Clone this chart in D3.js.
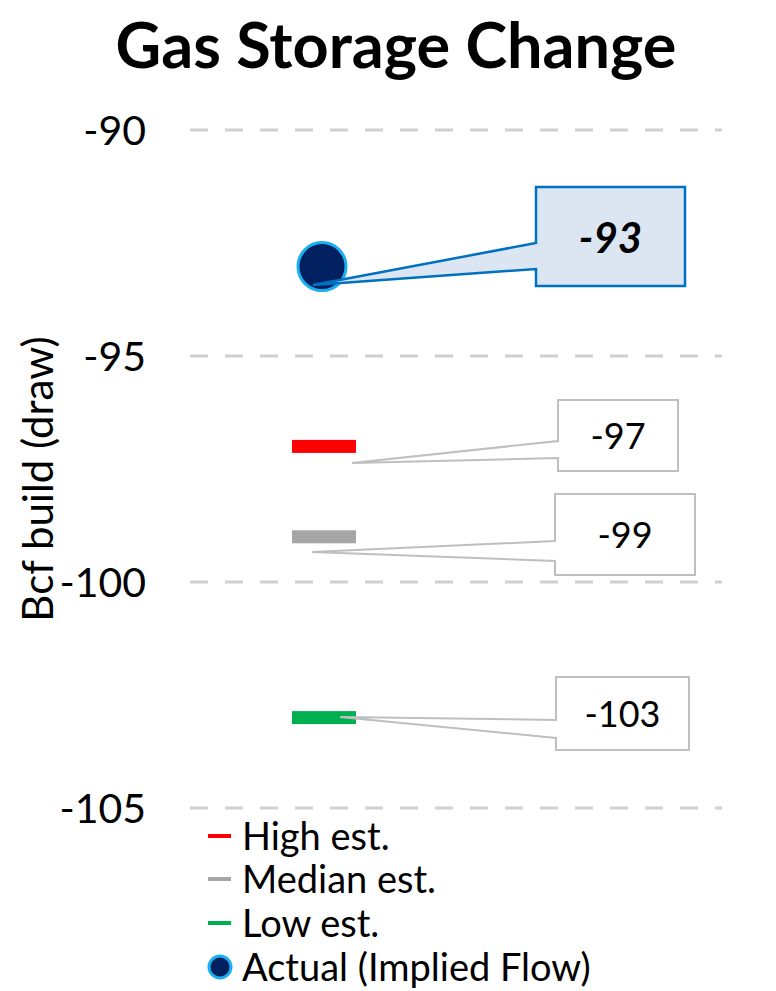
<!DOCTYPE html>
<html><head><meta charset="utf-8">
<script src="https://cdn.jsdelivr.net/npm/d3@7"></script>
<style>body{margin:0;background:#fff}svg{display:block}text{font-family:Lato,"Open Sans",sans-serif}</style>
</head><body>
<svg id="c" width="776" height="991"></svg>
<script>
const title = "Gas Storage Change";
const yLabel = "Bcf build (draw)";
const yTicks = [-90, -95, -100, -105];
const estNames = ["High est.", "Median est.", "Low est."];
const estValues = [-97, -99, -103];
const estColors = ["#ff0000", "#a6a6a6", "#00b050"];
const actualName = "Actual (Implied Flow)";
const actualValue = -93;

const svg = d3.select("#c");
const y = d3.scaleLinear().domain([-90, -105]).range([130, 808]);
const xL = 190, xR = 722;
const xc = 324;

svg.append("text").attr("x", 396).attr("y", 68).attr("text-anchor", "middle")
  .attr("font-size", 63).attr("font-weight", 700).attr("fill", "#000").text(title);

// gridlines
svg.append("g").selectAll("line").data(yTicks).join("line")
  .attr("x1", xL).attr("x2", xR).attr("y1", d => y(d)).attr("y2", d => y(d))
  .attr("stroke", "#d0d0d0").attr("stroke-width", 3).attr("stroke-dasharray", "18 17");

const ax = d3.axisLeft(y).tickValues(yTicks).tickSize(0).tickPadding(0).tickFormat(d => String(d));
const gA = svg.append("g").attr("transform", "translate(146,0)").call(ax);
gA.select(".domain").remove();
gA.selectAll("text").attr("font-size", 41).attr("fill", "#000").attr("dy", "0.36em")
  .attr("font-family", "Lato,'Open Sans',sans-serif");

svg.append("text").attr("transform", "translate(53,479) rotate(-90)").attr("text-anchor", "middle")
  .attr("font-size", 42).attr("fill", "#000").text(yLabel);

// callouts
const callouts = [
  {v: actualValue, box: [536, 187, 685, 286], a: [243, 269], tip: [313, 285], fill: "#dce6f2", stroke: "#0070c0", sw: 2.5, fs: 42, bold: true},
  {v: estValues[0], box: [558, 400, 678, 471], a: [441, 458], tip: [352, 463], fill: "#fff", stroke: "#bfbfbf", sw: 2, fs: 36},
  {v: estValues[1], box: [555, 494, 695, 575], a: [541, 561], tip: [312, 552], fill: "#fff", stroke: "#bfbfbf", sw: 2, fs: 36},
  {v: estValues[2], box: [556, 677, 689, 750], a: [720, 738], tip: [340, 717], fill: "#fff", stroke: "#bfbfbf", sw: 2, fs: 36}
];

// estimate bars
svg.append("g").selectAll("rect").data(estValues).join("rect")
  .attr("x", 292).attr("width", 64).attr("y", d => y(d) - 6.5).attr("height", 13)
  .attr("fill", (d, i) => estColors[i]);

// actual dot
svg.append("circle").attr("cx", xc - 2).attr("cy", y(actualValue) + 1).attr("r", 24)
  .attr("fill", "#002060").attr("stroke", "#1ab0f0").attr("stroke-width", 3);

callouts.forEach(c => {
  const [x0, y0, x1, y1] = c.box;
  const p = `M${x0},${y0} L${x1},${y0} L${x1},${y1} L${x0},${y1} L${x0},${c.a[1]} L${c.tip[0]},${c.tip[1]} L${x0},${c.a[0]} Z`;
  svg.append("path").attr("d", p).attr("fill", c.fill).attr("stroke", c.stroke)
    .attr("stroke-width", c.sw).attr("stroke-linejoin", "miter");
  const cy = (y0 + y1) / 2 + 1;
  svg.append("text").attr("x", (x0 + x1) / 2).attr("y", cy + 0.36 * c.fs)
    .attr("text-anchor", "middle")
    .attr("font-size", c.fs).attr("font-weight", c.bold ? 700 : 400).attr("font-style", c.bold ? "italic" : "normal")
    .attr("fill", "#000").text(c.v);
});

// legend
const legY = [836, 879, 923, 967];
const lg = svg.append("g");
const lfs = 38;
estNames.forEach((n, i) => {
  lg.append("line").attr("x1", 208).attr("x2", 231).attr("y1", legY[i]).attr("y2", legY[i])
    .attr("stroke", estColors[i]).attr("stroke-width", 4);
  lg.append("text").attr("x", 242).attr("y", legY[i] + 0.36 * lfs)
    .attr("font-size", lfs).attr("fill", "#000").text(n);
});
lg.append("circle").attr("cx", 220).attr("cy", legY[3]).attr("r", 11)
  .attr("fill", "#002060").attr("stroke", "#1ab0f0").attr("stroke-width", 3);
lg.append("text").attr("x", 242).attr("y", legY[3] + 0.36 * lfs)
  .attr("font-size", lfs).attr("fill", "#000").text(actualName);
</script>
</body></html>
